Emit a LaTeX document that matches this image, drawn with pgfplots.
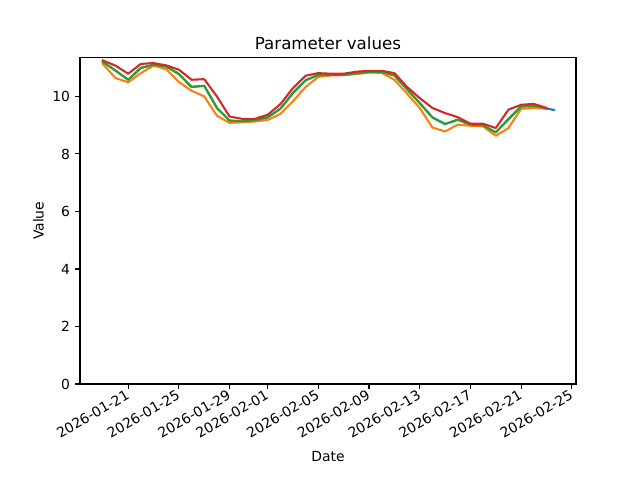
\documentclass[border=0pt]{standalone}
\usepackage{fontspec}
\setmainfont{DejaVu Sans}
\usepackage{pgfplots}
\usepackage{pgfplotstable}
\pgfplotsset{compat=1.18}
\definecolor{C0}{HTML}{1F77B4}
\definecolor{C1}{HTML}{FF7F0E}
\definecolor{C2}{HTML}{2CA02C}
\definecolor{C3}{HTML}{D62728}
\pgfplotstableread{
d orange green red
-2 11.13 11.20 11.25
-1 10.64 10.90 11.07
0 10.49 10.58 10.79
1 10.81 10.99 11.13
2 11.07 11.10 11.16
3 10.95 11.04 11.08
4 10.50 10.78 10.93
5 10.20 10.33 10.58
6 10.00 10.37 10.60
7 9.33 9.60 10.00
8 9.08 9.16 9.30
9 9.10 9.13 9.22
10 9.13 9.17 9.22
11 9.18 9.27 9.36
12 9.39 9.57 9.73
13 9.83 10.12 10.29
14 10.33 10.56 10.72
15 10.68 10.75 10.81
16 10.73 10.75 10.79
17 10.74 10.75 10.79
18 10.78 10.80 10.86
19 10.83 10.85 10.89
20 10.82 10.85 10.89
21 10.58 10.73 10.81
22 10.10 10.25 10.33
23 9.60 9.77 9.94
24 8.92 9.27 9.60
25 8.78 9.04 9.42
26 9.02 9.19 9.28
27 8.98 9.02 9.05
28 8.96 8.99 9.05
29 8.63 8.75 8.90
30 8.90 9.21 9.54
31 9.57 9.65 9.71
32 9.60 9.68 9.74
33 9.57 9.58 9.60
}\datatab
\pgfplotstableread{
d blue
-2 11.20
-1 10.90
0 10.58
1 10.99
2 11.10
3 11.04
4 10.78
5 10.33
6 10.37
7 9.60
8 9.16
9 9.13
10 9.17
11 9.27
12 9.57
13 10.12
14 10.56
15 10.75
16 10.75
17 10.75
18 10.80
19 10.85
20 10.85
21 10.73
22 10.25
23 9.77
24 9.27
25 9.04
26 9.19
27 9.02
28 8.99
29 8.75
30 9.21
31 9.65
32 9.68
33 9.58
33.6 9.53
}\bluetab
\begin{document}
\begin{tikzpicture}
\useasboundingbox (-57.6pt,-69.12pt) rectangle (403.2pt,276.48pt);
\begin{axis}[
  at={(0pt,0pt)}, anchor=south west,
  scale only axis, width=357.12pt, height=235.0pt,
  xmin=-3.8, xmax=35.33, ymin=0, ymax=11.35,
  axis line style={line width=0.8pt, black},
  tick align=outside, major tick length=3.5pt,
  every tick/.style={line width=0.8pt, black},
  xtick pos=bottom, ytick pos=left,
  xtick={0,4,8,11,15,19,23,27,31,35},
  xticklabels={2026-01-21,2026-01-25,2026-01-29,2026-02-01,2026-02-05,2026-02-09,2026-02-13,2026-02-17,2026-02-21,2026-02-25},
  ytick={0,2,4,6,8,10},
  /pgf/number format/assume math mode=true,
  tick label style={font=\fontsize{10}{12}\selectfont},
  xticklabel style={rotate=30, anchor=north east, inner sep=0pt, xshift=-1.9pt, yshift=1.1pt},
  yticklabel style={inner sep=0pt, xshift=-3.5pt},
  title={Parameter values},
  every axis title shift=0pt,
  title style={at={(axis description cs:0.5,1)}, anchor=base, yshift=6pt, inner sep=0pt, font=\fontsize{12}{14}\selectfont},
  xlabel={Date},
  xlabel style={at={(axis description cs:0.5,0)}, anchor=base, yshift=-56pt, inner sep=0pt, font=\fontsize{10}{12}\selectfont},
  ylabel={Value},
  ylabel style={at={(axis description cs:-0.084,0.5)}, anchor=center, inner sep=0pt, font=\fontsize{10}{12}\selectfont},
  every axis plot/.append style={line width=1.5pt, line join=round, line cap=rect},
]
\addplot[C0, no marks] table[x=d, y=blue] {\bluetab};
\addplot[C1, no marks] table[x=d, y=orange] {\datatab};
\addplot[C2, no marks] table[x=d, y=green] {\datatab};
\addplot[C3, no marks] table[x=d, y=red] {\datatab};
\end{axis}
\end{tikzpicture}
\end{document}
